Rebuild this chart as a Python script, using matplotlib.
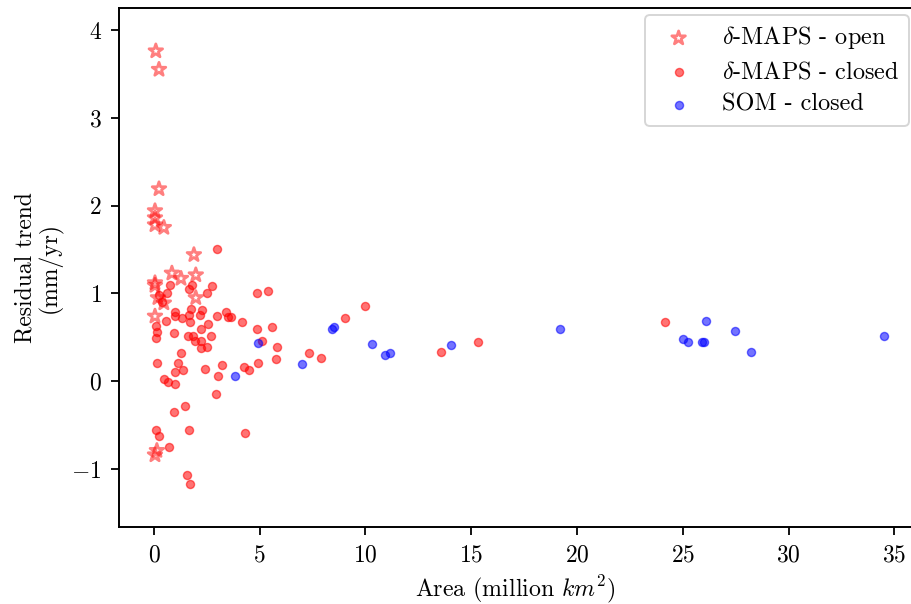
import matplotlib
matplotlib.use('Agg')
import matplotlib.pyplot as plt

plt.rcParams['font.family'] = 'serif'
plt.rcParams['font.serif'] = ['cmr10', 'DejaVu Serif']
plt.rcParams['mathtext.fontset'] = 'cm'
plt.rcParams['axes.formatter.use_mathtext'] = True
plt.rcParams['axes.unicode_minus'] = True

open_x = [0.09, 0.24, 0.24, 0.05, 0.05, 0.05, 0.47, 1.89, 0.85, 1.28, 1.98, 0.05, 0.05, 0.19, 0.47, 1.98, 0.05, 0.14, 0.05]
open_y = [3.76, 3.55, 2.19, 1.94, 1.86, 1.78, 1.75, 1.44, 1.23, 1.17, 1.21, 1.12, 1.09, 0.95, 0.89, 0.95, 0.74, -0.79, -0.84]

closed_x = [2.98, 0.76, 1.80, 1.65, 2.74, 2.50, 0.61, 0.24, 0.38, 4.87, 5.37, 0.99, 0.99, 0.57, 1.32, 1.75,
            1.65, 1.70, 2.27, 2.17, 2.98, 3.40, 3.50, 3.64, 4.16, 4.87, 5.58, 2.55, 2.22, 0.09, 0.14, 0.09,
            0.95, 1.61, 1.84, 1.94, 2.22, 2.69, 2.50, 2.22, 1.28, 0.14, 1.13, 2.41, 3.21, 4.25, 4.49, 4.91,
            5.10, 5.81, 5.77, 0.99, 1.37, 3.02, 0.47, 0.66, 0.99, 2.93, 1.47, 0.95, 0.09, 0.24, 1.65, 4.30,
            0.71, 1.56, 1.70, 7.33, 7.89, 9.03, 9.97, 13.56, 15.31, 24.15]
closed_y = [1.50, 1.10, 1.10, 1.05, 1.09, 1.01, 1.01, 0.98, 0.90, 1.01, 1.03, 0.79, 0.74, 0.69, 0.72, 0.82,
            0.75, 0.68, 0.81, 0.75, 0.74, 0.79, 0.73, 0.73, 0.68, 0.60, 0.62, 0.65, 0.60, 0.63, 0.56, 0.49,
            0.55, 0.52, 0.51, 0.46, 0.46, 0.51, 0.39, 0.38, 0.32, 0.21, 0.21, 0.14, 0.18, 0.16, 0.13, 0.21,
            0.46, 0.39, 0.25, 0.11, 0.13, 0.06, 0.03, -0.01, -0.03, -0.15, -0.28, -0.35, -0.56, -0.62, -0.55, -0.59,
            -0.75, -1.07, -1.17, 0.32, 0.26, 0.72, 0.86, 0.33, 0.45, 0.68]

som_x = [4.9, 3.85, 7.0, 8.4, 8.5, 10.3, 10.9, 11.15, 14.05, 19.2, 25.0, 25.25, 25.9, 26.0, 26.1, 27.45, 28.2, 34.5]
som_y = [0.43, 0.06, 0.20, 0.60, 0.62, 0.42, 0.30, 0.32, 0.41, 0.60, 0.48, 0.45, 0.45, 0.45, 0.69, 0.57, 0.33, 0.51]

fig = plt.figure(figsize=(9.12, 6.04), dpi=100)
ax = fig.add_axes([119 / 912, 1 - 527 / 604, 793 / 912, 519 / 604])

ax.scatter(open_x, open_y, marker='*', s=105, facecolors='none', edgecolors='red', linewidths=2, alpha=0.5, label=r'$\delta$-MAPS - open')
ax.scatter(closed_x, closed_y, s=34, c='red', alpha=0.55, label=r'$\delta$-MAPS - closed')
ax.scatter(som_x, som_y, s=34, c='blue', alpha=0.55, label='SOM - closed')

ax.set_xlim(-1.65, 35.83)
ax.set_ylim(-1.66, 4.25)
ax.set_xticks(range(0, 36, 5))
ax.set_yticks(range(-1, 5))
ax.tick_params(labelsize=17, length=6, width=1.3, pad=6.5)
for s in ax.spines.values():
    s.set_linewidth(1.4)

ax.set_xlabel(r'Area (million $km^2$)', fontsize=17.2, labelpad=5)
ax.set_ylabel('Residual trend\n(mm/yr)', fontsize=17, labelpad=6, linespacing=1.05)
leg = ax.legend(loc='upper right', bbox_to_anchor=(0.9965, 0.987), borderaxespad=0, fontsize=17.4, labelspacing=0.42)
leg.get_frame().set_linewidth(1.4)

fig.savefig('out.png', dpi=100)
